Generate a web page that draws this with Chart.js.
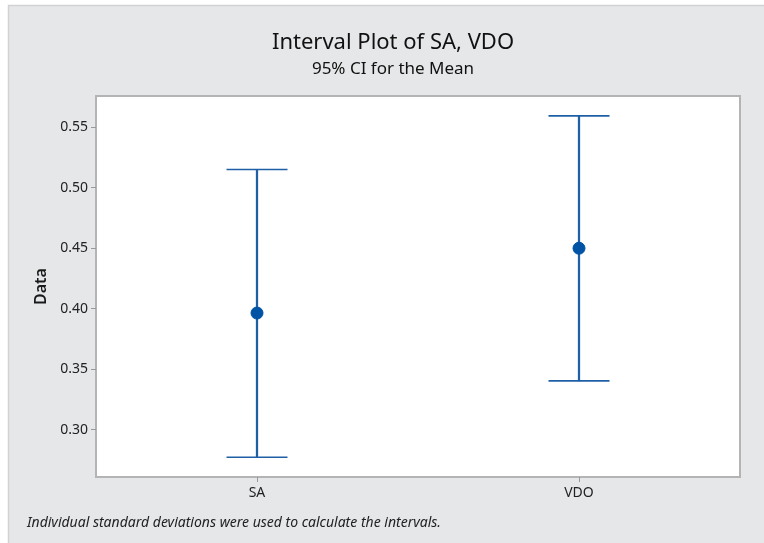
<!DOCTYPE html>
<html>
<head>
<meta charset="utf-8">
<script src="https://cdn.jsdelivr.net/npm/chart.js@4.4.0/dist/chart.umd.min.js"></script>
<style>
  html, body { margin: 0; padding: 0; background: #fff; }
  #wrap { width: 764px; height: 543px; }
</style>
</head>
<body>
<div id="wrap"><canvas id="chart" width="764" height="543"></canvas></div>
<script>
// Dados
const categorias = ["SA", "VDO"];
const medias = [0.3965, 0.450];
const limInf = [0.2775, 0.3405];
const limSup = [0.5150, 0.5592];
const yTicks = [0.30, 0.35, 0.40, 0.45, 0.50, 0.55];

const azul = "#1f5fa6";
const fonte = "'Noto Sans', 'Open Sans', sans-serif";

// fundo cinza, moldura, títulos e nota de rodapé
const fundoPlugin = {
  id: "fundo",
  beforeDraw(chart) {
    const ctx = chart.ctx;
    const a = chart.chartArea;
    ctx.save();
    ctx.fillStyle = "#ffffff";
    ctx.fillRect(0, 0, chart.width, chart.height);
    ctx.fillStyle = "#e6e7e9";
    ctx.fillRect(8, 5, chart.width - 8, chart.height - 5);
    ctx.strokeStyle = "#d2d2d4";
    ctx.lineWidth = 1.5;
    ctx.beginPath();
    ctx.moveTo(8.5, chart.height);
    ctx.lineTo(8.5, 5.5);
    ctx.lineTo(chart.width, 5.5);
    ctx.stroke();
    ctx.fillStyle = "#ffffff";
    ctx.fillRect(a.left, a.top, a.right - a.left, a.bottom - a.top);
    ctx.strokeStyle = "#b4b4b4";
    ctx.lineWidth = 2;
    ctx.strokeRect(a.left, a.top, a.right - a.left, a.bottom - a.top);
    ctx.restore();
  },
  afterDraw(chart) {
    const ctx = chart.ctx;
    ctx.save();
    ctx.fillStyle = "#111";
    ctx.textBaseline = "middle";
    ctx.textAlign = "center";
    ctx.font = "22px " + fonte;
    ctx.fillText("Interval Plot of SA, VDO", 393, 43);
    ctx.font = "17px " + fonte;
    ctx.fillText("95% CI for the Mean", 393, 69);
    ctx.textAlign = "left";
    ctx.fillStyle = "#222";
    ctx.font = "italic 14px " + fonte;
    ctx.fillText("Individual standard deviations were used to calculate the intervals.", 27, 523);
    ctx.restore();
  }
};

new Chart(document.getElementById("chart"), {
  type: "bar",
  data: {
    labels: categorias,
    datasets: [
      {
        // barra vertical do intervalo
        data: categorias.map((c, i) => [limInf[i], limSup[i]]),
        backgroundColor: azul,
        barThickness: 1.6,
        order: 3
      },
      {
        type: "line",
        data: limSup,
        showLine: false,
        pointStyle: "line",
        pointRadius: 30.5,
        pointBorderWidth: 1.6,
        pointBorderColor: azul,
        order: 2
      },
      {
        type: "line",
        data: limInf,
        showLine: false,
        pointStyle: "line",
        pointRadius: 30.5,
        pointBorderWidth: 1.6,
        pointBorderColor: azul,
        order: 2
      },
      {
        type: "line",
        data: medias,
        showLine: false,
        pointStyle: "circle",
        pointRadius: 6,
        pointBackgroundColor: "#0053a5",
        pointBorderColor: "#0053a5",
        pointBorderWidth: 1,
        order: 1
      }
    ]
  },
  options: {
    responsive: false,
    animation: false,
    layout: { autoPadding: false, padding: { left: 0, right: 24, top: 96, bottom: 0 } },
    plugins: {
      legend: { display: false },
      tooltip: { enabled: false },
      title: { display: false }
    },
    scales: {
      x: {
        offset: true,
        grid: { display: true, offset: false, drawOnChartArea: false, drawTicks: true, tickLength: 5, color: "#999" },
        border: { display: false },
        ticks: { color: "#222", padding: 3, font: { family: fonte, size: 14 } },
        afterFit(scale) {
          scale.height = 66;
          scale.paddingLeft = 0;
          scale.paddingRight = 0;
        }
      },
      y: {
        min: 0.2612,
        max: 0.5756,
        grid: { display: true, drawOnChartArea: false, drawTicks: true, tickLength: 5, color: "#999" },
        border: { display: false },
        ticks: {
          color: "#222",
          padding: 3,
          font: { family: fonte, size: 14 },
          callback: v => v.toFixed(2)
        },
        afterBuildTicks(scale) { scale.ticks = yTicks.map(v => ({ value: v })); },
        title: {
          display: true,
          text: "Data",
          color: "#1a1a1a",
          font: { family: fonte, size: 16, weight: "600" },
          padding: { top: 32, bottom: 0 }
        },
        afterFit(scale) {
          scale.width = 96;
          scale.paddingTop = 0;
          scale.paddingBottom = 0;
        }
      }
    }
  },
  plugins: [fundoPlugin]
});
</script>
</body>
</html>
